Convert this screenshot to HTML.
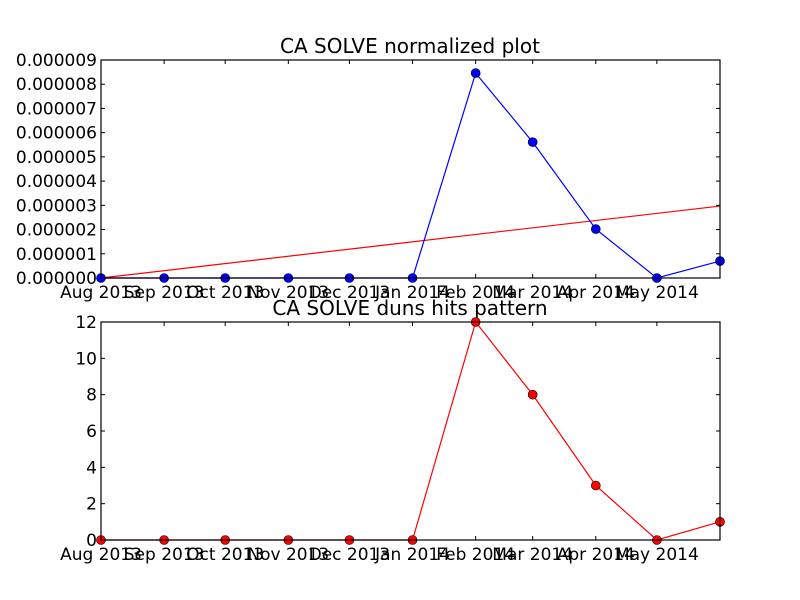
<!DOCTYPE html>
<html><head><meta charset="utf-8"><style>
body{margin:0;background:#fff;}
svg{display:block;font-family:"DejaVu Sans","Liberation Sans",sans-serif;}
</style></head><body>
<svg id="chart" width="800" height="600" viewBox="0 0 800 600"></svg>
<script>
const dates = ["2013-08-01","2013-09-01","2013-10-01","2013-11-01","2013-12-01","2014-01-01","2014-02-01","2014-03-01","2014-04-01","2014-05-01","2014-06-01"];
const tickLabels = ["Aug 2013","Sep 2013","Oct 2013","Nov 2013","Dec 2013","Jan 2014","Feb 2014","Mar 2014","Apr 2014","May 2014"];
const normValues = [0,0,0,0,0,0,8.46e-6,5.61e-6,2.02e-6,0,0.70e-6];
const trendValues = [0,2.97e-6];
const hitsValues = [0,0,0,0,0,0,12,8,3,0,1];
const normTicks = [0,1e-6,2e-6,3e-6,4e-6,5e-6,6e-6,7e-6,8e-6,9e-6];
const hitsTicks = [0,2,4,6,8,10,12];

const svg = document.getElementById('chart');
const NS = "http://www.w3.org/2000/svg";
function mk(tag, attrs, parent){const e=document.createElementNS(NS,tag);for(const k in attrs)e.setAttribute(k,attrs[k]);(parent||svg).appendChild(e);return e;}
const L=101,R=720;
const t0=Date.parse(dates[0]), t1=Date.parse(dates[dates.length-1]);
function xs(d){return L+(Date.parse(d)-t0)/(t1-t0)*(R-L);}

function panel(top,bot,ymax,yticks,fmt,title,name){
  const ys=v=>bot-v/ymax*(bot-top);
  const g=mk('g',{});
  
  
  const t=mk('text',{x:410,y:top-7,'text-anchor':'middle','font-size':20},g);
  t.textContent=title;
  
  
  yticks.forEach(v=>{
    const y=ys(v);
    mk('line',{x1:L,x2:L+4,y1:y,y2:y,stroke:'#000'},g);
    mk('line',{x1:R,x2:R-4,y1:y,y2:y,stroke:'#000'},g);
    const tx=mk('text',{x:L-4,y:y+6,'text-anchor':'end','font-size':17},g);
    tx.textContent=fmt(v);
    
    
  });
  tickLabels.forEach((lab,i)=>{
    const x=xs(dates[i]);
    mk('line',{x1:x,x2:x,y1:bot,y2:bot-4,stroke:'#000'},g);
    mk('line',{x1:x,x2:x,y1:top,y2:top+4,stroke:'#000'},g);
    const tx=mk('text',{x:x,y:bot+20,'text-anchor':'middle','font-size':17},g);
    tx.textContent=lab;
    
    
  });
  return {g,ys};
}

const p1=panel(60,278,9e-6,normTicks,v=>v.toFixed(6),'CA SOLVE normalized plot','normalized-plot');
const trend=mk('line',{x1:xs(dates[0]),y1:p1.ys(trendValues[0]),x2:xs(dates[dates.length-1]),y2:p1.ys(trendValues[1]),stroke:'#f00','stroke-width':1.2},p1.g);


const l1=mk('polyline',{points:normValues.map((v,i)=>xs(dates[i])+','+p1.ys(v)).join(' '),fill:'none',stroke:'#00f','stroke-width':1.2},p1.g);


normValues.forEach((v,i)=>{
  const c=mk('circle',{cx:xs(dates[i]),cy:p1.ys(v),r:4.5,fill:'#00f',stroke:'#000','stroke-width':0.6},p1.g);
  
  
});
mk('rect',{x:L,y:60,width:R-L,height:218,fill:'none',stroke:'#000','stroke-width':1.2},p1.g);

const p2=panel(322,540,12,hitsTicks,v=>String(v),'CA SOLVE duns hits pattern','hits-plot');
const l2=mk('polyline',{points:hitsValues.map((v,i)=>xs(dates[i])+','+p2.ys(v)).join(' '),fill:'none',stroke:'#f00','stroke-width':1.2},p2.g);


hitsValues.forEach((v,i)=>{
  const c=mk('circle',{cx:xs(dates[i]),cy:p2.ys(v),r:4.5,fill:'#f00',stroke:'#000','stroke-width':0.6},p2.g);
  
  
});
mk('rect',{x:L,y:322,width:R-L,height:218,fill:'none',stroke:'#000','stroke-width':1.2},p2.g);
</script>
</body></html>
